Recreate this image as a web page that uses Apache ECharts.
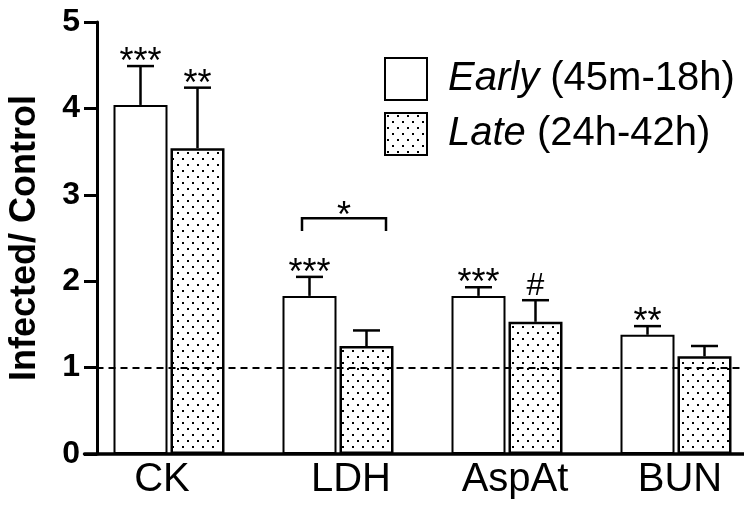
<!DOCTYPE html>
<html>
<head>
<meta charset="utf-8">
<script src="https://cdn.jsdelivr.net/npm/echarts@6/dist/echarts.min.js"></script>
<style>html,body{margin:0;padding:0;background:#fff}#main{width:744px;height:506px}</style>
</head>
<body>
<div id="main"></div>
<script>
var categories = ['CK', 'LDH', 'AspAt', 'BUN'];
var earlyMean = [4.04, 1.83, 1.83, 1.38];
var earlySem = [0.45, 0.22, 0.10, 0.10];
var lateMean = [3.54, 1.25, 1.53, 1.13];
var lateSem = [0.70, 0.18, 0.25, 0.12];
var earlySig = ['***', '***', '***', '**'];
var lateSig = ['**', '', '#', ''];
var yTicks = [0, 1, 2, 3, 4, 5];
var baseline = 1;
// LDH early vs late comparison
var bracketCat = 1, bracketTop = 2.73, bracketLeg = 2.58, bracketSig = '*';

var FONT = '"Liberation Sans", Arial, sans-serif';
var BAR_W = 54, GAP = 3, CAP = 27;
var OFF = (BAR_W + GAP) / 2;

// dotted fill for the late bars
var pat = document.createElement('canvas');
pat.width = 10; pat.height = 12;
var c = pat.getContext('2d');
c.fillStyle = '#fff'; c.fillRect(0, 0, 10, 12);
c.fillStyle = '#000'; c.fillRect(2, 2, 2, 2); c.fillRect(7, 8, 2, 2);

function errItems(mean, sem) {
    return mean.map(function (m, i) { return [i, m, sem[i]]; });
}

function errRender(side, sigs) {
    return function (params, api) {
        var i = api.value(0), m = api.value(1), s = api.value(2);
        var base = api.coord([i, m]);
        var top = api.coord([i, m + s]);
        var x = base[0] + side * OFF;
        var st = {stroke: '#000', lineWidth: 2.5};
        var kids = [
            {type: 'line', shape: {x1: x, y1: base[1], x2: x, y2: top[1]}, style: st},
            {type: 'line', shape: {x1: x - CAP / 2, y1: top[1], x2: x + CAP / 2, y2: top[1]}, style: st}
        ];
        var sig = sigs[params.dataIndex];
        if (sig) {
            kids.push({type: 'text', style: {
                text: sig, x: x, y: sig === '#' ? top[1] - 14 : top[1] - 3,
                align: 'center', verticalAlign: 'middle',
                fontSize: sig === '#' ? 32 : 36, fontFamily: FONT, fill: '#000'
            }});
        }
        return {type: 'group', children: kids};
    };
}

var myChart = echarts.init(document.getElementById('main'));

// labels in the figure sit a little off the group centres
var labelPad = {CK: [0, 14, 0, 0], LDH: [0, 0, 0, 26], AspAt: [0, 0, 0, 16], BUN: [0, 0, 0, 8]};
var labelRich = {};
categories.forEach(function (k) {
    labelRich[k] = {fontSize: 40, fontFamily: FONT, color: '#000', padding: labelPad[k]};
});

option = {
    animation: false,
    grid: {left: 84.5, top: 22, right: -16.5, bottom: 52, outerBoundsMode: 'none'},
    legend: {
        orient: 'vertical', left: 384, top: 57, padding: 0,
        itemWidth: 42, itemHeight: 42, itemGap: 11,
        icon: 'rect', selectedMode: false,
        data: ['Early', 'Late'],
        formatter: function (n) {
            return n === 'Early' ? '{i|Early} (45m-18h)' : '{i|Late} (24h-42h)';
        },
        textStyle: {
            fontSize: 40, fontFamily: FONT, color: '#000', lineHeight: 42,
            padding: [0, 0, 0, 16],
            rich: {i: {fontStyle: 'italic', fontSize: 40, fontFamily: FONT, color: '#000', lineHeight: 42}}
        }
    },
    xAxis: {
        type: 'category',
        data: categories,
        axisTick: {show: false},
        axisLine: {lineStyle: {color: '#000', width: 3.5}},
        axisLabel: {
            margin: 6,
            formatter: function (v) { return '{' + v + '|' + v + '}'; },
            rich: labelRich
        }
    },
    yAxis: {
        type: 'value',
        min: yTicks[0], max: yTicks[yTicks.length - 1], interval: 1,
        offset: -12.5,
        name: 'Infected/ Control',
        nameLocation: 'middle', nameGap: 54, nameRotate: 90,
        nameTextStyle: {fontSize: 36, fontWeight: 'bold', fontFamily: FONT, color: '#000'},
        axisLine: {show: true, lineStyle: {color: '#000', width: 3}},
        axisTick: {show: true, length: 13, lineStyle: {color: '#000', width: 3}},
        axisLabel: {fontSize: 32, fontWeight: 'bold', fontFamily: FONT, color: '#000', margin: 17},
        splitLine: {show: false}
    },
    series: [
        {
            name: 'Early', type: 'bar', data: earlyMean,
            barWidth: BAR_W, barGap: (GAP / BAR_W * 100) + '%',
            itemStyle: {color: '#fff', borderColor: '#000', borderWidth: 2}
        },
        {
            name: 'Late', type: 'bar', data: lateMean,
            barWidth: BAR_W,
            itemStyle: {color: {image: pat, repeat: 'repeat'}, borderColor: '#000', borderWidth: 2.5},
            markLine: {
                symbol: 'none', silent: true, label: {show: false},
                lineStyle: {type: [7, 5], color: '#000', width: 2},
                data: [{yAxis: baseline}]
            }
        },
        {
            type: 'custom', name: 'earlyErr', z: 5,
            data: errItems(earlyMean, earlySem),
            renderItem: errRender(-1, earlySig)
        },
        {
            type: 'custom', name: 'lateErr', z: 5,
            data: errItems(lateMean, lateSem),
            renderItem: errRender(1, lateSig)
        },
        {
            type: 'custom', name: 'bracket', z: 5,
            data: [[bracketCat, bracketTop, bracketLeg]],
            renderItem: function (params, api) {
                var p = api.coord([api.value(0), api.value(1)]);
                var q = api.coord([api.value(0), api.value(2)]);
                var x1 = p[0] - 36, x2 = p[0] + 48;
                return {type: 'group', children: [
                    {type: 'polyline', shape: {points: [[x1, q[1]], [x1, p[1]], [x2, p[1]], [x2, q[1]]]},
                        style: {stroke: '#000', lineWidth: 2.5, fill: null}},
                    {type: 'text', style: {text: bracketSig, x: p[0] + 6, y: p[1] - 1,
                        align: 'center', verticalAlign: 'middle', fontSize: 36, fontFamily: FONT, fill: '#000'}}
                ]};
            }
        }
    ]
};
myChart.setOption(option);
</script>
</body>
</html>
